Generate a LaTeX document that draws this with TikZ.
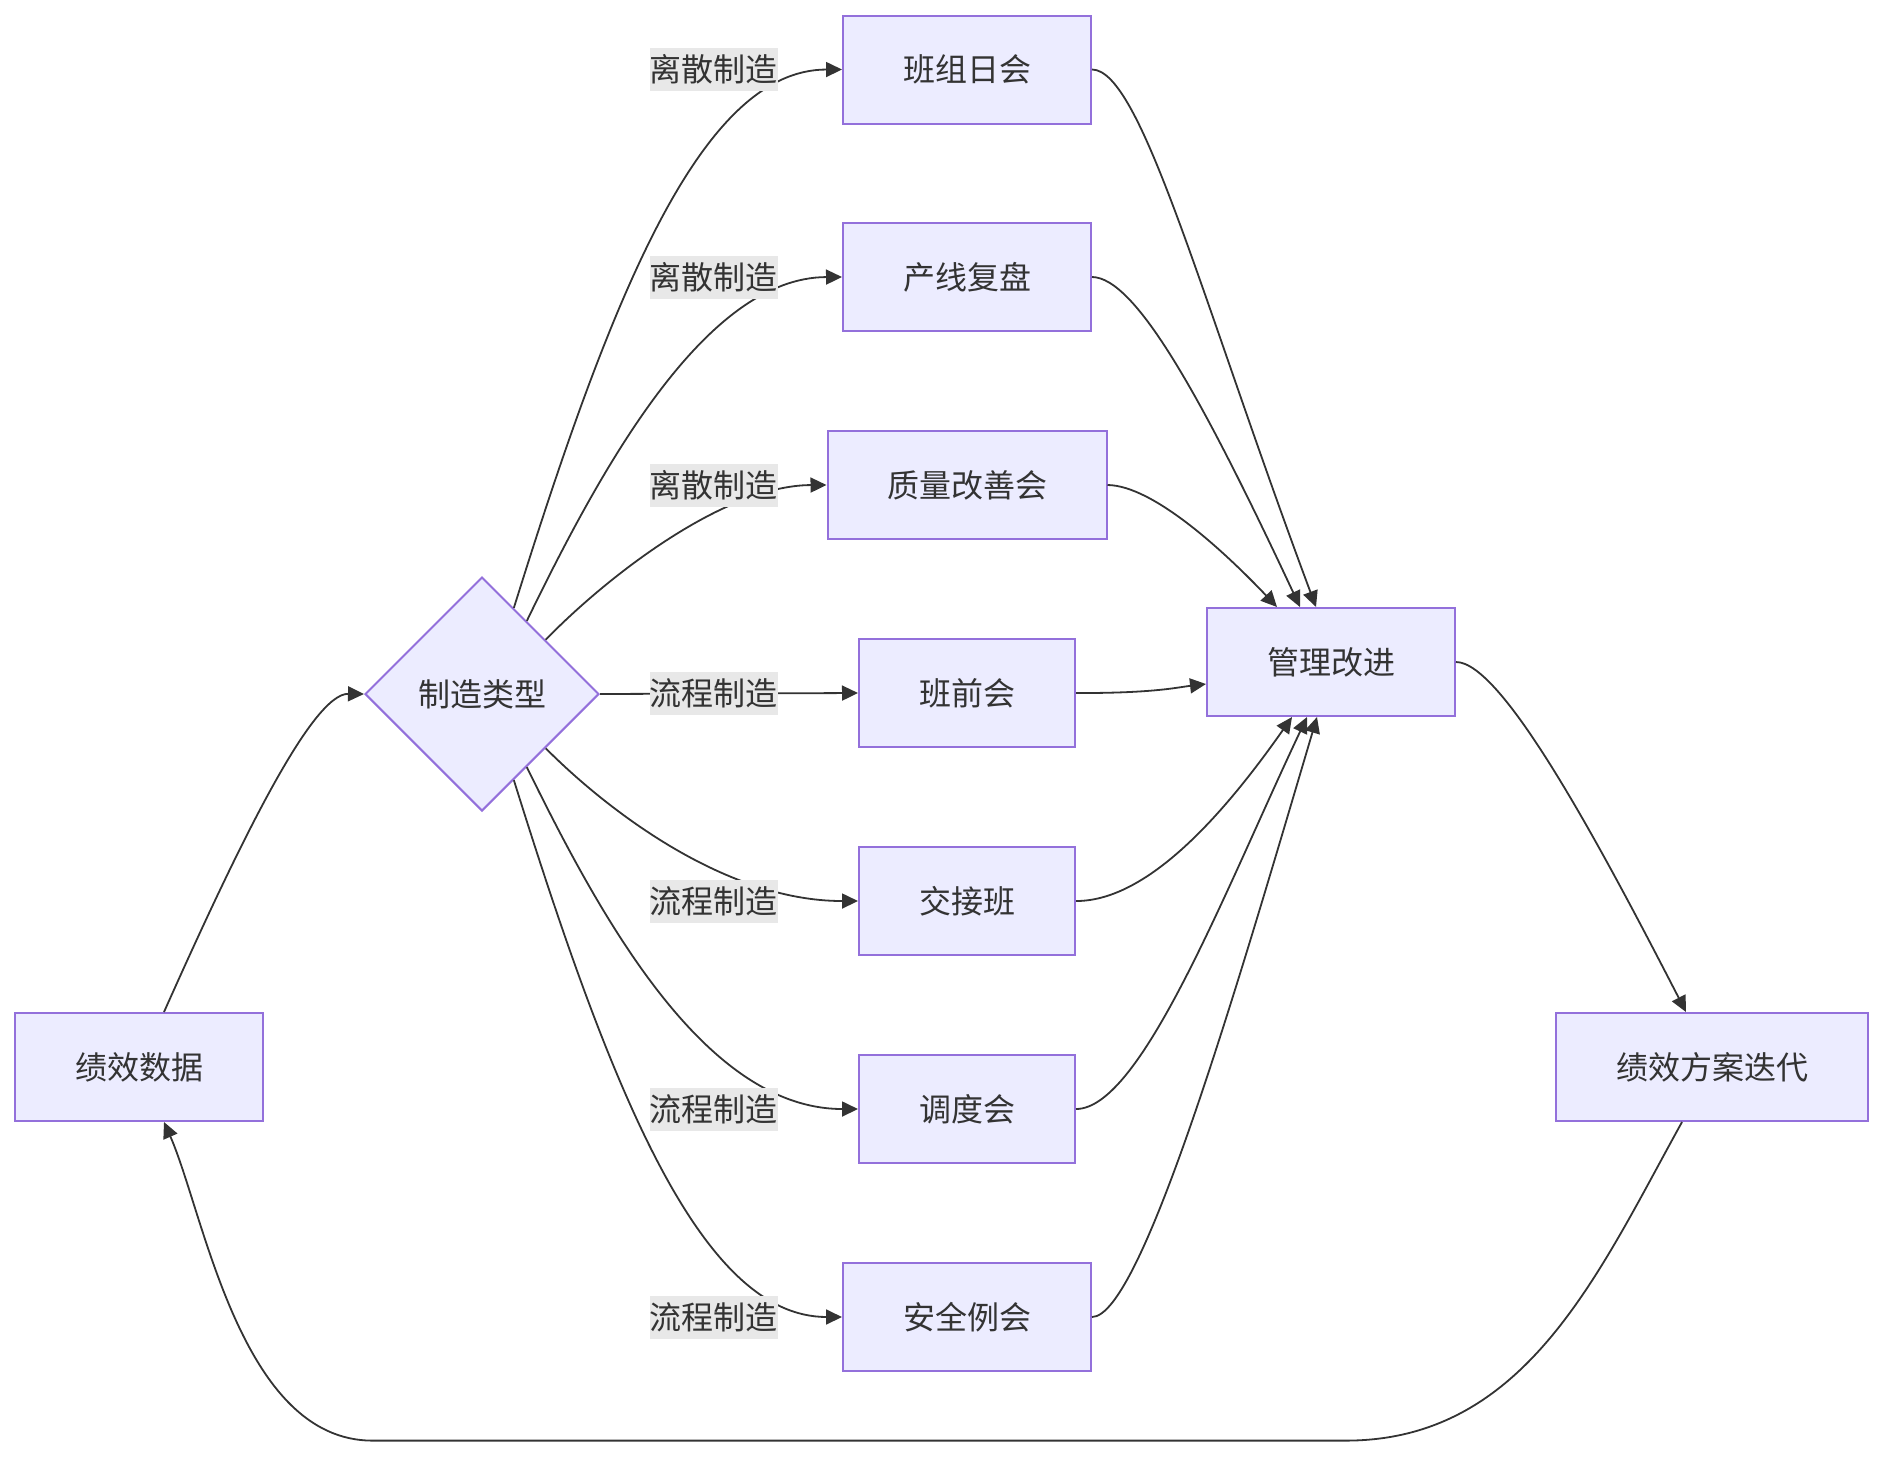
\documentclass[tikz,border=0pt]{standalone}
\usepackage{fontspec}
\usepackage{tikz}
\usetikzlibrary{arrows.meta,shapes.geometric,calc}
\newfontfamily\cjk{Noto Sans CJK SC}
\definecolor{ink}{HTML}{333333}
\definecolor{nfill}{HTML}{ECECFF}
\definecolor{nline}{HTML}{9370DB}
\definecolor{lbg}{HTML}{E8E8E8}
\tikzset{
  >={Triangle[length=8pt,width=7.5pt]},
  every picture/.style={line width=0.9pt,font=\cjk\fontsize{16pt}{19pt}\selectfont},
  bx/.style={draw=nline,fill=nfill,line width=1pt,text=ink,minimum height=54pt,inner sep=0pt},
  dec/.style={diamond,draw=nline,fill=nfill,line width=1pt,text=ink,aspect=1,minimum width=117pt,minimum height=117pt,inner sep=0pt},
  arr/.style={->,draw=ink},
  lab/.style={fill=lbg,text=ink,inner sep=0pt,minimum width=64pt,minimum height=21.5pt},
}
\begin{document}
\begin{tikzpicture}[x=0.5pt,y=-0.5pt]
  \useasboundingbox (0,0) rectangle (1884,1458);
  \node[bx,minimum width=124pt] (data) at (139,1067) {绩效数据};
  \node[dec] (type) at (482,694) {制造类型};
  \node[bx,minimum width=124pt] (bz) at (967,69.5) {班组日会};
  \node[bx,minimum width=124pt] (cx) at (967,277) {产线复盘};
  \node[bx,minimum width=139.5pt] (zl) at (967,485) {质量改善会};
  \node[bx,minimum width=108pt] (bq) at (967,693) {班前会};
  \node[bx,minimum width=108pt] (jj) at (967,901) {交接班};
  \node[bx,minimum width=108pt] (dd) at (967,1109) {调度会};
  \node[bx,minimum width=124pt] (aq) at (967,1317) {安全例会};
  \node[bx,minimum width=124pt] (gl) at (1331,662) {管理改进};
  \node[bx,minimum width=156pt] (fa) at (1712,1067) {绩效方案迭代};
  % type -> meetings
  \draw[arr] ($(type.north)!0.27!(type.east)$) .. controls (610,300) and (700,69.7) .. (bz.west);
  \draw[arr] ($(type.north)!0.38!(type.east)$) .. controls (600.8,468.6) and (705,277.5) .. (cx.west);
  \draw[arr] ($(type.north)!0.54!(type.east)$) .. controls (600.8,582.7) and (720.9,485.4) .. (zl.west);
  \draw[arr] (type.east) -- (bq.west);
  \draw[arr] ($(type.south)!0.54!(type.east)$) .. controls (600.8,803.8) and (720.9,901.1) .. (jj.west);
  \draw[arr] ($(type.south)!0.38!(type.east)$) .. controls (600.8,918) and (705,1109) .. (dd.west);
  \draw[arr] ($(type.south)!0.27!(type.east)$) .. controls (610,1088) and (700,1316.8) .. (aq.west);
  \node[lab] (l1) at (713.7,69.5) {离散制造};
  \node[lab] (l2) at (713.7,277) {离散制造};
  \node[lab] (l3) at (713.7,485) {离散制造};
  \node[lab] (l4) at (713.7,693) {流程制造};
  \node[lab] (l5) at (713.7,901) {流程制造};
  \node[lab] (l6) at (713.7,1109) {流程制造};
  \node[lab] (l7) at (713.7,1317) {流程制造};
  % meetings -> gl
  \draw[arr] (bz.east) .. controls (1141.4,69.7) and (1201.5,300.4) .. ($(gl.north)+(-15,0)$);
  \draw[arr] (cx.east) .. controls (1135.4,277.5) and (1201.5,396.5) .. ($(gl.north)+(-31,0)$);
  \draw[arr] (zl.east) .. controls (1153.4,485.4) and (1225.5,552.7) .. ($(gl.north)+(-54,0)$);
  \draw[arr] (bq.east) .. controls (1153.4,693.3) and (1177.5,687.3) .. ($(gl.west)+(0,22)$);
  \draw[arr] (jj.east) .. controls (1141.4,901.1) and (1213.5,829) .. ($(gl.south)+(-39,0)$);
  \draw[arr] (dd.east) .. controls (1141.4,1109) and (1225.5,889.1) .. ($(gl.south)+(-24,0)$);
  \draw[arr] (aq.east) .. controls (1141.4,1316.8) and (1237.5,985.2) .. ($(gl.south)+(-14,0)$);
  % loop back
  \draw[arr] (gl.east) .. controls (1501.9,662) and (1598,841) .. ($(fa.north)+(-26,0)$);
  \draw[arr] ($(fa.south)+(-30,0)$) .. controls (1598,1273.6) and (1525.9,1440.6) .. (1345.7,1440.6)
    -- (372.5,1440.6) .. controls (240.3,1440.6) and (204.3,1213.5) .. ($(data.south)+(25,0)$);
  \draw[arr] ($(data.north)+(25,0)$) .. controls (240.3,841) and (312.4,693.3) .. (type.west);
\end{tikzpicture}
\end{document}
